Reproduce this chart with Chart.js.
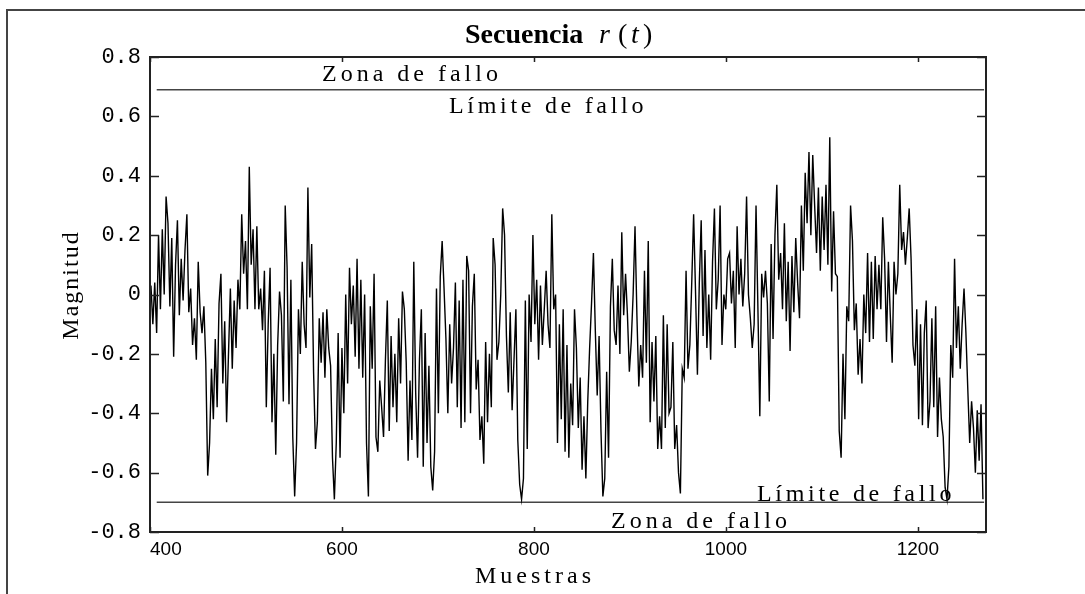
<!DOCTYPE html>
<html>
<head>
<meta charset="utf-8">
<script src="https://cdn.jsdelivr.net/npm/chart.js@4.4.1/dist/chart.umd.min.js"></script>
<style>
  html, body { margin: 0; padding: 0; background: #fff; }
  canvas { display: block; }
</style>
</head>
<body>
<canvas id="grafica" width="1085" height="594"></canvas>
<script>
// valores (una muestra cada ~2)
const muestraInicio = 401;
const muestraPaso = 1.97;
const magnitud = [
  0.03, -0.10, 0.04, -0.13, 0.20, -0.05, 0.22, 0.00, 0.33, 0.24,
  -0.04, 0.19, -0.21, 0.10, 0.25, -0.07, 0.12, -0.02, 0.15, 0.27,
  -0.06, 0.02, -0.17, -0.08, -0.22, 0.11, -0.06, -0.13, -0.04, -0.23,
  -0.61, -0.50, -0.25, -0.42, -0.15, -0.38, -0.03, 0.07, -0.30, -0.09,
  -0.43, -0.20, 0.02, -0.25, -0.02, -0.18, 0.05, -0.05, 0.27, 0.07,
  0.18, -0.05, 0.43, 0.10, 0.22, -0.05,
  0.23, -0.05, 0.02, -0.12, 0.08, -0.38, -0.10, 0.09, -0.43, -0.20,
  -0.54, -0.17, 0.01, -0.07, -0.36, 0.30, 0.09, -0.37, 0.05, -0.48,
  -0.68, -0.50, -0.05, -0.20, 0.11, -0.10, -0.18, 0.36, -0.01, 0.17,
  -0.26, -0.52, -0.43, -0.08, -0.23, -0.06, -0.28, -0.05, -0.18, -0.24,
  -0.55, -0.69, -0.50, -0.13, -0.55, -0.18, -0.40, 0.00, -0.30, 0.09,
  -0.10, 0.03, -0.21, 0.12, -0.25,
  0.05, -0.28, 0.00, -0.50, -0.68, -0.04, -0.25, 0.07, -0.48, -0.53,
  -0.29, -0.38, -0.48, -0.22, -0.02, -0.46, -0.14, -0.38, -0.20, -0.43,
  -0.08, -0.30, 0.01, -0.05, -0.23, -0.56, -0.29, -0.49, 0.11, -0.33,
  -0.55, -0.22, -0.05, -0.58, -0.13, -0.50, -0.24, -0.58, -0.66, -0.53,
  0.02, -0.40, 0.06, 0.18, 0.02, -0.15, -0.40, -0.10, -0.30, -0.18,
  0.04, -0.38, -0.02, -0.45,
  0.05, -0.43, 0.13, 0.08, -0.40, -0.04, 0.07, -0.32, -0.22, -0.49,
  -0.41, -0.57, -0.16, -0.43, -0.20, -0.38, 0.19, 0.10, -0.22, -0.16,
  0.00, 0.29, 0.20, -0.14, -0.33, -0.06, -0.39, -0.22, -0.05, -0.49,
  -0.64, -0.69, -0.62, -0.02, -0.52, 0.00, -0.16, 0.20, -0.10, 0.05,
  -0.22, 0.03, -0.17, -0.05, 0.08, -0.10, -0.18, 0.27, -0.05, 0.00,
  -0.50, -0.10, -0.42, -0.05, -0.53,
  -0.17, -0.55, -0.30, -0.44, -0.05, -0.18, -0.45, -0.28, -0.59, -0.41,
  -0.62, -0.36, -0.18, -0.03, 0.14, -0.12, -0.34, -0.14, -0.46, -0.68,
  -0.62, -0.26, -0.55, -0.04, 0.12, -0.12, -0.17, 0.03, -0.20, 0.21,
  -0.07, 0.07, -0.07, -0.26, -0.16, 0.00, 0.23, -0.07, -0.31, -0.17,
  -0.28, 0.08, -0.23, 0.18, -0.43, -0.16, -0.36, -0.14, -0.52, -0.41,
  -0.52, -0.07, -0.45, -0.10,
  -0.40, -0.38, -0.16, -0.52, -0.44, -0.60, -0.67, -0.25, -0.28, 0.08,
  -0.25, -0.17, 0.04, 0.27, 0.01, -0.27, 0.04, 0.25, -0.14, 0.15,
  -0.18, 0.00, -0.22, 0.11, 0.29, -0.05, 0.05, 0.30, -0.17, 0.00,
  -0.05, 0.12, 0.14, -0.03, 0.08, -0.18, 0.23, 0.00, 0.12, -0.04,
  0.07, 0.33, 0.00, -0.08, -0.18, -0.10, 0.30, -0.05, -0.41, 0.07,
  -0.01, 0.08, -0.03, -0.36, 0.17,
  -0.15, 0.20, 0.37, 0.05, 0.14, -0.05, 0.24, -0.09, 0.11, -0.19,
  0.13, -0.06, 0.19, 0.04, -0.08, 0.30, 0.08, 0.41, 0.24, 0.48,
  0.20, 0.47, 0.30, 0.14, 0.36, 0.08, 0.33, 0.15, 0.37, 0.10,
  0.53, 0.01, 0.28, 0.07, 0.06, -0.46, -0.55, -0.20, -0.42, -0.04,
  -0.09, 0.30, 0.18, -0.12, -0.03, -0.27, -0.15, -0.30, 0.00, -0.13,
  0.14, -0.16, 0.11, -0.15, 0.13, -0.05,
  0.10, -0.05, 0.26, 0.12, -0.16, 0.11, -0.07, -0.23, 0.11, 0.00,
  0.07, 0.37, 0.15, 0.21, 0.10, 0.19, 0.29, 0.12, -0.17, -0.24,
  -0.05, -0.42, -0.10, -0.44, -0.13, -0.02, -0.45, -0.36, -0.08, -0.38,
  -0.04, -0.48, -0.28, -0.42, -0.48, -0.65, -0.69, -0.58, -0.17, -0.28,
  0.12, -0.18, -0.04, -0.25, -0.10, 0.02, -0.13, -0.32, -0.50, -0.36,
  -0.45, -0.60, -0.39, -0.56, -0.37, -0.69
];

// limites de fallo
const limiteSuperior = 0.69;
const limiteInferior = -0.70;
const limiteDesde = 407;
const limiteHasta = 1269;

// ejes
const xMin = 400, xMax = 1271;
const xTicks = [400, 600, 800, 1000, 1200];
const yTicks = [-0.8, -0.6, -0.4, -0.2, 0, 0.2, 0.4, 0.6, 0.8];

const serie = magnitud.map((v, i) => ({ x: muestraInicio + i * muestraPaso, y: v }));

// marco, marcas de los ejes y textos
const marco = {
  id: "marco",
  afterDraw(chart) {
    const c = chart.ctx;
    const a = chart.chartArea;
    const sx = chart.scales.x, sy = chart.scales.y;
    c.save();

    // recuadro exterior
    c.strokeStyle = "#444";
    c.lineWidth = 2;
    c.beginPath();
    c.moveTo(7, 594);
    c.lineTo(7, 10);
    c.lineTo(1085, 10);
    c.stroke();

    // caja del grafico
    c.strokeStyle = "#222";
    c.lineWidth = 2;
    c.strokeRect(a.left, a.top, a.right - a.left, a.bottom - a.top);

    // marcas hacia dentro
    c.lineWidth = 1.5;
    c.beginPath();
    xTicks.forEach(v => {
      const px = Math.round(sx.getPixelForValue(v)) + 0.5;
      c.moveTo(px, a.bottom); c.lineTo(px, a.bottom - 5);
      c.moveTo(px, a.top); c.lineTo(px, a.top + 5);
    });
    yTicks.forEach(v => {
      const py = Math.round(sy.getPixelForValue(v)) + 0.5;
      c.moveTo(a.left, py); c.lineTo(a.left + 9, py);
      c.moveTo(a.right, py); c.lineTo(a.right - 9, py);
    });
    c.stroke();

    c.fillStyle = "#000";
    c.textBaseline = "alphabetic";
    c.textAlign = "left";

    // titulo
    c.font = 'bold 28px "Liberation Serif"';
    c.fillText("Secuencia", 465, 43);
    c.font = 'italic 28px "Liberation Serif"';
    c.fillText("r", 599, 43);
    c.fillText("t", 631, 43);
    c.font = '28px "Liberation Serif"';
    c.fillText("(", 618, 43);
    c.fillText(")", 643, 43);

    // anotaciones
    c.font = '24px "Liberation Serif"';
    c.letterSpacing = "4px";
    c.fillText("Zona de fallo", 322, 81);
    c.letterSpacing = "3.7px";
    c.fillText("Límite de fallo", 449, 113);
    c.fillText("Límite de fallo", 757, 501);
    c.letterSpacing = "4px";
    c.fillText("Zona de fallo", 611, 528);

    // titulos de ejes
    c.fillText("Muestras", 475, 583);
    c.letterSpacing = "2px";
    c.translate(72, 285);
    c.rotate(-Math.PI / 2);
    c.textAlign = "center";
    c.textBaseline = "middle";
    c.fillText("Magnitud", 0, 0);
    c.restore();
  }
};

const grafica = new Chart(document.getElementById("grafica"), {
  type: "line",
  data: {
    datasets: [
      {
        label: "r(t)",
        data: serie,
        borderColor: "#000",
        borderWidth: 1.4,
        pointRadius: 0,
        tension: 0,
        order: 1
      },
      {
        label: "Límite de fallo superior",
        data: [{ x: limiteDesde, y: limiteSuperior }, { x: limiteHasta, y: limiteSuperior }],
        borderColor: "#444",
        borderWidth: 1.5,
        pointRadius: 0,
        order: 2
      },
      {
        label: "Límite de fallo inferior",
        data: [{ x: limiteDesde, y: limiteInferior }, { x: limiteHasta, y: limiteInferior }],
        borderColor: "#444",
        borderWidth: 1.5,
        pointRadius: 0,
        order: 2
      }
    ]
  },
  options: {
    responsive: false,
    animation: false,
    devicePixelRatio: 1,
    layout: { padding: { top: 57, right: 99, bottom: 0, left: 0 } },
    plugins: {
      legend: { display: false },
      tooltip: { enabled: false },
      title: { display: false }
    },
    scales: {
      x: {
        type: "linear",
        min: xMin,
        max: xMax,
        grid: { display: false, drawTicks: false },
        border: { display: false },
        afterBuildTicks: s => { s.ticks = xTicks.concat([xMax]).map(v => ({ value: v })); },
        afterFit: s => { s.height = 62; },
        ticks: {
          autoSkip: false,
          maxRotation: 0,
          align: "inner",
          padding: 6,
          color: "#000",
          font: { family: "Liberation Sans", size: 19 },
          callback: v => (xTicks.includes(v) ? String(v) : "")
        }
      },
      y: {
        type: "linear",
        min: -0.8,
        max: 0.8,
        grid: { display: false, drawTicks: false },
        border: { display: false },
        afterBuildTicks: s => { s.ticks = yTicks.map(v => ({ value: v })); },
        afterFit: s => { s.width = 150; },
        ticks: {
          autoSkip: false,
          padding: 9,
          color: "#000",
          font: { family: "Liberation Mono", size: 22 },
          callback: v => String(v)
        }
      }
    }
  },
  plugins: [marco]
});
</script>
</body>
</html>
